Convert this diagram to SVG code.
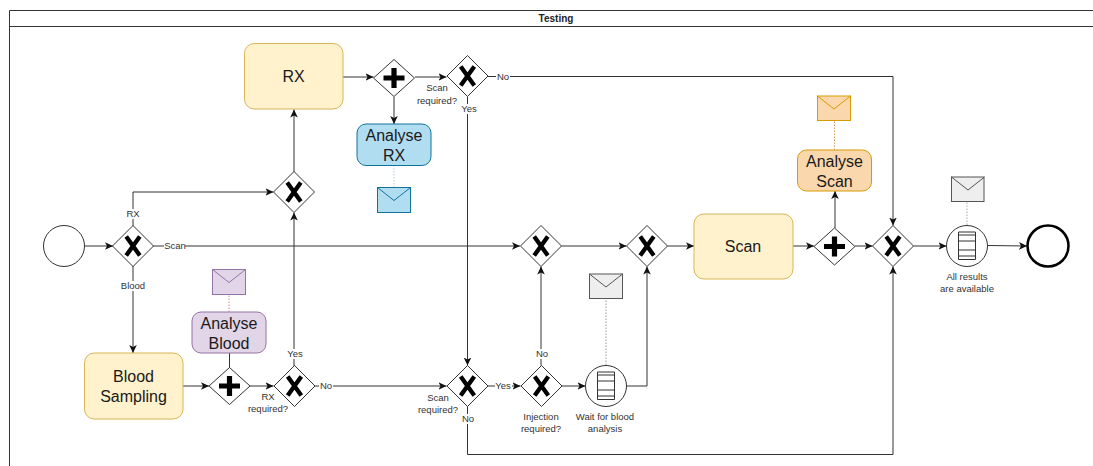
<svg xmlns="http://www.w3.org/2000/svg" width="1093" height="466" viewBox="0 0 1093 466">
<style>
text{font-family:"Liberation Sans",Arial,sans-serif;text-anchor:middle;fill:#333}
.s{font-size:9.500px}
.t{font-size:16px;fill:#1a1a1a}
.c{fill:none;stroke:#333;stroke-width:1}
.a{marker-end:url(#arrow)}
.d{fill:none;stroke-width:1;stroke-dasharray:1.5 1.5}
.g{fill:#fff;stroke:#333;stroke-width:1}
.k{fill:none;stroke:#000;stroke-width:4.300}
.lb{fill:#fff;stroke:none}
</style>
<defs>
<marker id="arrow" markerUnits="userSpaceOnUse" markerWidth="10" markerHeight="10" refX="8" refY="5" orient="auto"><path d="M0 1.200L8 5L0 8.800L2 5Z" fill="#111"/></marker>
<g id="xg"><path class="g" d="M0 -20.500L20.500 0L0 20.500L-20.500 0Z"/><path class="k" d="M-6.800 -9.500L6.800 9.500M6.800 -9.500L-6.800 9.500"/></g>
<g id="pg"><path class="g" d="M0 -18.500L20.500 0L0 18.500L-20.500 0Z"/><path class="k" d="M-10.500 0H10.500M0 -10V10" style="stroke-width:5.200"/></g>
<g id="doc"><circle class="g" r="20.500"/><path fill="#fff" stroke="#333" d="M-8.500 -14H8.500V13.500H-8.500ZM-8.500 -11H8.500M-8.500 -5H8.500M-8.500 4H8.500M-8.500 10H8.500"/></g>
<path id="flap" d="M0 0L16.500 13L33 0" fill="none"/>
</defs>
<g id="pool"><path d="M1100 10.500H9.500V480" fill="#fff" stroke="#333"/><path d="M9.500 26.500H1100" stroke="#333"/><text x="556" y="21.500" style="font-size:10px;font-weight:700;fill:#222">Testing</text></g>
<g id="connectors">
<path class="c a" d="M84.500 246H113"/>
<path class="c a" d="M133 226V192H273.500"/>
<path class="c a" d="M153 246H520"/>
<path class="c a" d="M133 266V353"/>
<path class="c a" d="M183 386H209"/>
<path class="c" d="M229.500 368V353"/>
<path class="c a" d="M250 386H273.500"/>
<path class="c a" d="M294 367V212.500"/>
<path class="c a" d="M294 172V109.500"/>
<path class="c a" d="M315 386H446.500"/>
<path class="c a" d="M343 77H373.500"/>
<path class="c a" d="M415 77H446.500"/>
<path class="c a" d="M394 97V124"/>
<path class="c a" d="M488 76.500H893V225.500"/>
<path class="c a" d="M467.500 97V365.500"/>
<path class="c a" d="M488 386H520.500"/>
<path class="c a" d="M541 365.500V266.500"/>
<path class="c a" d="M561.500 386H585.500"/>
<path class="c a" d="M626.500 386H647V266.500"/>
<path class="c a" d="M561.500 246H626.500"/>
<path class="c a" d="M667.500 246H694"/>
<path class="c a" d="M793 246H814"/>
<path class="c a" d="M855 246H872.500"/>
<path class="c a" d="M835 228V191"/>
<path class="c a" d="M913.500 246H946.500"/>
<path class="c a" d="M987.500 245.500L1027 246"/>
<path class="c a" d="M467.500 406.500V454.500H893V266.500"/>
<path class="d" stroke="#e88" d="M229 312V294"/>
<path class="d" stroke="#b5cbe8" d="M394 165V187"/>
<path class="d" stroke="#999" d="M606 365V298"/>
<path class="d" stroke="#d9a060" d="M834.500 150V121"/>
<path class="d" stroke="#aaa" d="M967 225V201"/>
</g>
<g id="labels">
<rect class="lb" x="126" y="209" width="14" height="10"/><text class="s" x="133" y="217">RX</text>
<rect class="lb" x="164" y="241" width="21" height="10"/><text class="s" x="175" y="249">Scan</text>
<rect class="lb" x="121" y="281" width="25" height="10"/><text class="s" x="133" y="289">Blood</text>
<rect class="lb" x="286" y="349" width="17" height="10"/><text class="s" x="295" y="357">Yes</text>
<rect class="lb" x="319" y="381" width="14" height="10"/><text class="s" x="326" y="389">No</text>
<rect class="lb" x="496" y="72" width="14" height="10"/><text class="s" x="503" y="80">No</text>
<rect class="lb" x="461" y="104" width="17" height="10"/><text class="s" x="469" y="112">Yes</text>
<rect class="lb" x="495" y="381" width="17" height="10"/><text class="s" x="503" y="389">Yes</text>
<rect class="lb" x="535" y="349" width="14" height="10"/><text class="s" x="542" y="357">No</text>
<rect class="lb" x="461" y="414" width="14" height="10"/><text class="s" x="468" y="422">No</text>
<text class="s" x="437" y="91">Scan</text><text class="s" x="437" y="104">required?</text>
<text class="s" x="268" y="400">RX</text><text class="s" x="268" y="412">required?</text>
<text class="s" x="438" y="401">Scan</text><text class="s" x="438" y="413">required?</text>
</g>
<g id="start"><circle class="g" cx="64" cy="246" r="20.500"/></g>
<g id="gw1"><use href="#xg" x="133" y="246"/></g>
<g id="gw2"><use href="#xg" x="294" y="192"/></g>
<g id="gw3"><use href="#pg" x="394" y="78"/></g>
<g id="gw4"><use href="#xg" x="467.500" y="76"/></g>
<g id="gw5"><use href="#pg" x="229.500" y="386"/></g>
<g id="gw6"><use href="#xg" x="294.500" y="386"/></g>
<g id="gw7"><use href="#xg" x="467.500" y="386"/></g>
<g id="gw8"><use href="#xg" x="541.500" y="386"/><text class="s" x="541" y="420">Injection</text><text class="s" x="541" y="432">required?</text></g>
<g id="gw9"><use href="#xg" x="541" y="246"/></g>
<g id="gw10"><use href="#xg" x="647" y="246"/></g>
<g id="gw11"><use href="#pg" x="834.500" y="246.500"/></g>
<g id="gw12"><use href="#xg" x="893" y="246"/></g>
<g id="wait"><use href="#doc" x="606" y="386"/><text class="s" x="605" y="420">Wait for blood</text><text class="s" x="605" y="432">analysis</text></g>
<g id="results"><use href="#doc" x="967" y="246"/><text class="s" x="967" y="280">All results</text><text class="s" x="967" y="292">are available</text></g>
<g id="end"><circle cx="1048" cy="246" r="20.500" fill="#fff" stroke="#000" stroke-width="2.500"/></g>
<g id="rx"><rect x="244.500" y="43.500" width="98.500" height="65.500" rx="9.800" fill="#fff2cc" stroke="#d6b656"/><text class="t" x="293.500" y="82">RX</text></g>
<g id="blood"><rect x="84.500" y="353" width="98.500" height="66" rx="9.800" fill="#fff2cc" stroke="#d6b656"/><text class="t" x="133.500" y="382">Blood</text><text class="t" x="133.500" y="402">Sampling</text></g>
<g id="scan"><rect x="694" y="214" width="99" height="65" rx="9.800" fill="#fff2cc" stroke="#d6b656"/><text class="t" x="743" y="252">Scan</text></g>
<g id="arx"><rect x="357" y="124" width="74" height="41.500" rx="9" fill="#b1ddf0" stroke="#10739e"/><text class="t" x="394" y="141">Analyse</text><text class="t" x="394" y="161">RX</text></g>
<g id="ablood"><rect x="192" y="312" width="74" height="41" rx="9" fill="#e1d5e7" stroke="#9673a6"/><text class="t" x="229" y="329">Analyse</text><text class="t" x="229" y="349">Blood</text></g>
<g id="ascan"><rect x="797.500" y="150" width="74" height="41" rx="9" fill="#fad7ac" stroke="#d79b00"/><text class="t" x="834.500" y="167">Analyse</text><text class="t" x="834.500" y="187">Scan</text></g>
<g id="m1" fill="#fad7ac" stroke="#d79b00"><rect x="817.500" y="96" width="33" height="24.500"/><use href="#flap" x="817.500" y="96"/></g>
<g id="m2" fill="#b1ddf0" stroke="#10739e"><rect x="377.500" y="187.500" width="33" height="25"/><use href="#flap" x="377.500" y="187.500"/></g>
<g id="m3" fill="#e1d5e7" stroke="#9673a6"><rect x="212.500" y="269.500" width="33" height="25"/><use href="#flap" x="212.500" y="269.500"/></g>
<g id="m4" fill="#eeeeee" stroke="#555"><rect x="589.500" y="274" width="33" height="24.500"/><use href="#flap" x="589.500" y="274"/></g>
<g id="m5" fill="#eeeeee" stroke="#555"><rect x="951.500" y="177" width="32.500" height="24.500"/><use href="#flap" x="951.500" y="177"/></g>
</svg>
